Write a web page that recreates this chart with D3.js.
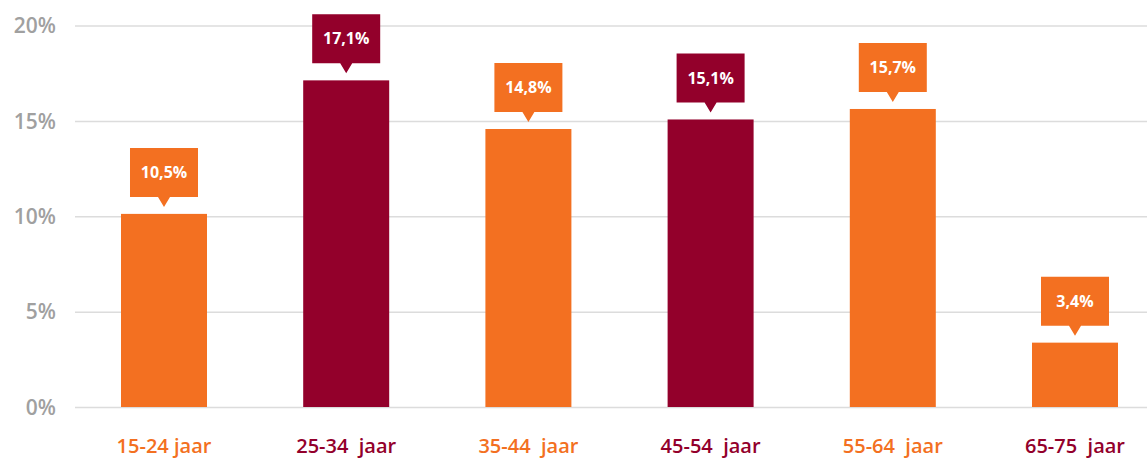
<!DOCTYPE html>
<html>
<head>
  <title>Leeftijdsgroepen</title>
  <script src="https://d3js.org/d3.v7.min.js"></script>
  <style>
    body { margin: 0; background: #fff; }
    text { font-family: "Open Sans", sans-serif; }
  </style>
</head>
<body>

<div id="chart"></div>

<script>
// data
const categories = ["15-24 jaar", "25-34  jaar", "35-44  jaar", "45-54  jaar", "55-64  jaar", "65-75  jaar"];
const barValues = [10.15, 17.15, 14.6, 15.1, 15.65, 3.4];
const valueLabels = ["10,5%", "17,1%", "14,8%", "15,1%", "15,7%", "3,4%"];
const yTicks = [0, 5, 10, 15, 20];

const orange = "#f37021";
const maroon = "#93002b";
const colors = [orange, maroon, orange, maroon, orange, orange];
const labelColors = [orange, maroon, orange, maroon, orange, maroon];

const width = 1147, height = 461;

const svg = d3.select("#chart")
  .append("svg")
  .attr("width", width)
  .attr("height", height);

const x = d3.scaleBand()
  .domain(categories)
  .range([121, 1118])
  .paddingInner(0.528)
  .paddingOuter(0);

const y = d3.scaleLinear()
  .domain([0, 20])
  .range([407.5, 26]);

// gridlines
svg.append("g")
  .selectAll("line")
  .data(yTicks)
  .join("line")
  .attr("x1", 75)
  .attr("x2", width)
  .attr("y1", d => y(d))
  .attr("y2", d => y(d))
  .attr("stroke", "#dcdcdc")
  .attr("stroke-width", 1.5);

// y labels
svg.append("g")
  .selectAll("text")
  .data(yTicks)
  .join("text")
  .attr("x", 56)
  .attr("y", d => y(d))
  .attr("dy", "0.35em")
  .attr("text-anchor", "end")
  .attr("fill", "#a0a0a0")
  .attr("font-size", 21)
  .attr("font-weight", 600)
  .text(d => d + "%");

// bars
svg.append("g")
  .selectAll("rect")
  .data(barValues)
  .join("rect")
  .attr("x", (d, i) => x(categories[i]))
  .attr("width", x.bandwidth())
  .attr("y", d => y(d))
  .attr("height", d => y(0) - y(d) - 0.5)
  .attr("fill", (d, i) => colors[i]);

// callouts
const boxW = 68, boxH = 49;
const callout = svg.append("g")
  .selectAll("g")
  .data(barValues)
  .join("g")
  .attr("transform", (d, i) =>
    `translate(${x(categories[i]) + x.bandwidth() / 2},${y(d) - 7})`);

callout.append("path")
  .attr("d", `M${-boxW / 2},${-10 - boxH}H${boxW / 2}V-10H6L0,0L-6,-10H${-boxW / 2}Z`)
  .attr("fill", (d, i) => colors[i]);

callout.append("text")
  .attr("y", -10 - boxH / 2)
  .attr("dy", "0.35em")
  .attr("text-anchor", "middle")
  .attr("fill", "#fff")
  .attr("font-size", 16)
  .attr("font-weight", 700)
  .text((d, i) => valueLabels[i]);

// x labels
svg.append("g")
  .selectAll("text")
  .data(categories)
  .join("text")
  .attr("x", d => x(d) + x.bandwidth() / 2)
  .attr("y", 453)
  .attr("text-anchor", "middle")
  .attr("fill", (d, i) => labelColors[i])
  .attr("font-size", 20)
  .attr("font-weight", 600)
  .style("white-space", "pre")
  .text(d => d);
</script>

</body>
</html>
